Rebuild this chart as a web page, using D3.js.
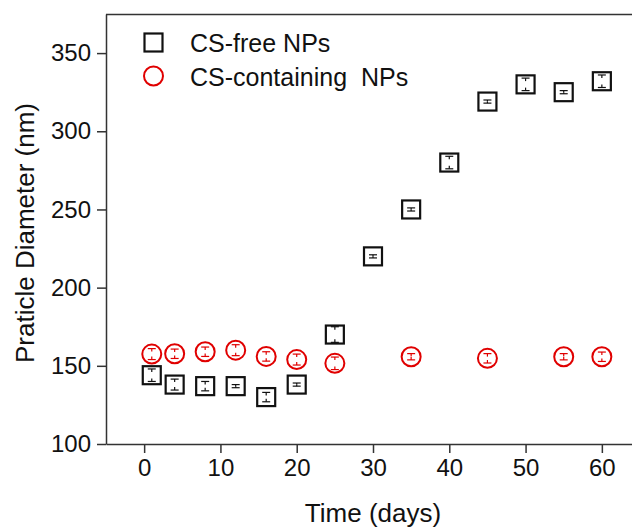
<!DOCTYPE html>
<html lang="en">
<head>
  <meta charset="utf-8">
  <title>Particle diameter vs time</title>
  <script src="https://d3js.org/d3.v7.min.js"></script>
  <style>
    body { margin: 0; background: #fff; }
    #chart text { font-family: "Liberation Sans", Arial, sans-serif; fill: #111; }
    .axis path, .axis line { stroke: #333; stroke-width: 1.5; }
  </style>
</head>
<body>
  <div id="chart"></div>

  <script>
    // dados
    var diasFree = [1, 4, 8, 12, 16, 20, 25, 30, 35, 40, 45, 50, 55, 60];
    var diamFree = [144, 138, 137, 137, 130, 138, 170, 220, 250, 280, 319, 330, 325, 332];
    var erroFree = [4, 3.5, 3, 1, 3, 1, 5, 1, 1, 4, 1, 4, 1, 4];

    var diasCS = [1, 4, 8, 12, 16, 20, 25, 35, 45, 55, 60];
    var diamCS = [157.5, 157.7, 159, 160, 156, 154, 151.6, 155.8, 154.8, 155.8, 155.8];
    var erroCS = [3.5, 3, 3, 3.5, 3, 3.5, 4, 2, 3, 2, 3];

    var xTicks = [0, 10, 20, 30, 40, 50, 60];
    var yTicks = [100, 150, 200, 250, 300, 350];
    var legendas = ["CS-free NPs", "CS-containing\u00a0 NPs"];

    var largura = 632, altura = 527;
    var svg = d3.select("#chart").append("svg")
      .attr("width", largura).attr("height", altura);

    var x = d3.scaleLinear().domain([-5, 65]).range([106, 640]);
    var y = d3.scaleLinear().domain([100, 375]).range([444, 14]);

    // moldura (o lado direito fica fora da imagem)
    svg.append("line").attr("x1", 106).attr("x2", 640).attr("y1", 14.5).attr("y2", 14.5)
      .attr("stroke", "#333").attr("stroke-width", 1.5);

    svg.append("g").attr("class", "axis")
      .attr("transform", "translate(0,444)")
      .call(d3.axisBottom(x).tickValues(xTicks).tickSize(9).tickPadding(6).tickSizeOuter(0))
      .selectAll("text").style("font-size", "24px").attr("fill", "#111");

    svg.append("g").attr("class", "axis")
      .attr("transform", "translate(106,0)")
      .call(d3.axisLeft(y).tickValues(yTicks).tickSize(9).tickPadding(6).tickSizeOuter(0))
      .selectAll("text").style("font-size", "24px").attr("fill", "#111");

    svg.append("text")
      .attr("x", x(30)).attr("y", 522)
      .attr("text-anchor", "middle").style("font-size", "26px")
      .text("Time (days)");

    svg.append("text")
      .attr("transform", "translate(34,233) rotate(-90)")
      .attr("text-anchor", "middle").style("font-size", "26px")
      .text("Praticle Diameter (nm)");

    // barras de erro: so as tampas e um toco curto (estilo Origin)
    function barras(dias, diam, erro, cor) {
      var g = svg.append("g").attr("stroke", cor).attr("stroke-width", 1.2);
      dias.forEach(function (d, i) {
        var cx = x(d), yc = y(diam[i]);
        [diam[i] - erro[i], diam[i] + erro[i]].forEach(function (v) {
          var yy = y(v), toco = Math.min(3, Math.abs(yy - yc));
          var dir = yy > yc ? -1 : 1;
          g.append("line").attr("x1", cx - 4).attr("x2", cx + 4).attr("y1", yy).attr("y2", yy);
          g.append("line").attr("x1", cx).attr("x2", cx).attr("y1", yy).attr("y2", yy + dir * toco);
        });
      });
    }

    barras(diasFree, diamFree, erroFree, "#111");
    barras(diasCS, diamCS, erroCS, "#e00000");

    var lado = 18;
    svg.append("g").selectAll("rect")
      .data(diasFree).enter().append("rect")
        .attr("x", function (d) { return x(d) - lado / 2; })
        .attr("y", function (d, i) { return y(diamFree[i]) - lado / 2; })
        .attr("width", lado).attr("height", lado)
        .attr("fill", "none").attr("stroke", "#111").attr("stroke-width", 2.2);

    svg.append("g").selectAll("circle")
      .data(diasCS).enter().append("circle")
        .attr("cx", function (d) { return x(d); })
        .attr("cy", function (d, i) { return y(diamCS[i]); })
        .attr("r", 9.5)
        .attr("fill", "none").attr("stroke", "#e00000").attr("stroke-width", 2);

    // legenda
    svg.append("rect").attr("x", 144.5).attr("y", 33.5).attr("width", lado).attr("height", lado)
      .attr("fill", "none").attr("stroke", "#111").attr("stroke-width", 2.2);
    svg.append("circle").attr("cx", 153.5).attr("cy", 76).attr("r", 9.5)
      .attr("fill", "none").attr("stroke", "#e00000").attr("stroke-width", 2);
    svg.append("text").attr("x", 190).attr("y", 52).style("font-size", "25px").text(legendas[0]);
    svg.append("text").attr("x", 190).attr("y", 86).style("font-size", "25px").text(legendas[1]);
  </script>
</body>
</html>
